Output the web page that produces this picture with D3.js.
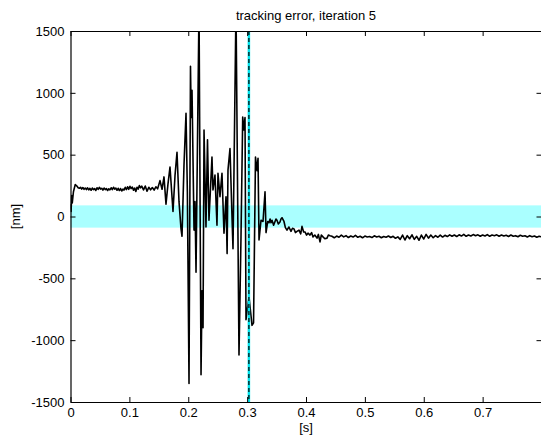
<html>
    <head>
        <meta charset="utf-8">
        <title>tracking-error</title>
        <script src="https://d3js.org/d3.v7.min.js"></script>
        <script>
            // measured tracking error, iteration 5
            const timeS = [
                0.000, 0.001, 0.002, 0.003, 0.005, 0.008, 0.011, 0.013,
                0.015, 0.017, 0.019, 0.021, 0.023, 0.025, 0.027, 0.029, 0.031, 0.033,
                0.035, 0.037, 0.039, 0.041, 0.043, 0.045, 0.047, 0.049, 0.051, 0.053,
                0.055, 0.057, 0.059, 0.061, 0.063, 0.065, 0.067, 0.069, 0.071, 0.073,
                0.075, 0.077, 0.079, 0.081, 0.083, 0.085, 0.087, 0.089, 0.091, 0.093,
                0.095, 0.097, 0.099, 0.101, 0.103, 0.105, 0.107, 0.109, 0.111, 0.113,
                0.115, 0.117, 0.119, 0.121,
                0.124, 0.127, 0.130, 0.133, 0.136, 0.139, 0.142, 0.145, 0.148, 0.152,
                0.1555, 0.1588, 0.1622, 0.1655, 0.169, 0.1741, 0.1775, 0.1809, 0.1843, 0.1877,
                0.1894, 0.1928, 0.1962, 0.1985, 0.2013, 0.2038, 0.2050, 0.2064, 0.2098, 0.2115,
                0.2132, 0.2183, 0.2217, 0.2234, 0.2251, 0.2268, 0.2301, 0.2327, 0.2352, 0.2403,
                0.2420, 0.2454, 0.2488, 0.2505, 0.2539, 0.2573, 0.2607, 0.2641, 0.2660, 0.2675,
                0.2709, 0.2743, 0.2760, 0.2777, 0.2811, 0.2862, 0.2896, 0.2925, 0.2945, 0.2964,
                0.2981, 0.3032, 0.3083, 0.3109, 0.3142, 0.3168, 0.3185, 0.3202, 0.3236, 0.3270,
                0.3304, 0.3321, 0.3350, 0.3372, 0.3390, 0.3406, 0.3423, 0.3450, 0.3474, 0.3490,
                0.3507, 0.3530, 0.3558, 0.3575, 0.3592, 0.3626, 0.3650, 0.3677, 0.3710, 0.3745,
                0.3770, 0.3796, 0.3820, 0.3847, 0.3881, 0.3910, 0.3932, 0.3960, 0.3983, 0.4010,
                0.4034, 0.4068, 0.4095, 0.4119, 0.4150, 0.4187, 0.4210, 0.4238, 0.4260, 0.4289,
                0.4320, 0.4357, 0.4380, 0.4408,
                0.444, 0.448, 0.452, 0.456, 0.460, 0.464, 0.468, 0.472, 0.476, 0.480,
                0.484, 0.488, 0.492, 0.496, 0.500, 0.504, 0.508, 0.512, 0.516, 0.520,
                0.524, 0.528, 0.532, 0.536, 0.540, 0.544, 0.548, 0.552, 0.556, 0.560,
                0.564, 0.568, 0.572, 0.576, 0.580, 0.584, 0.588, 0.592, 0.596, 0.600,
                0.604, 0.608, 0.612, 0.616, 0.620, 0.624, 0.628, 0.632, 0.636, 0.640,
                0.644, 0.648, 0.652, 0.656, 0.660, 0.664, 0.668, 0.672, 0.676, 0.680,
                0.684, 0.688, 0.692, 0.696, 0.700, 0.704, 0.708, 0.712, 0.716, 0.720,
                0.724, 0.728, 0.732, 0.736, 0.740, 0.744, 0.748, 0.752, 0.756, 0.760,
                0.764, 0.768, 0.772, 0.776, 0.780, 0.784, 0.788, 0.792, 0.796, 0.800
            ];
            const errorNm = [
                100, 40, 170, 110, 200, 258, 246, 232,
                228, 236, 222, 234, 220, 230, 218, 232, 215, 228,
                212, 230, 218, 226, 210, 232, 220, 236, 222, 228,
                214, 230, 218, 226, 210, 224, 216, 232, 218, 236,
                222, 230, 212, 228, 210, 226, 206, 222, 214, 236,
                218, 240, 220, 244, 226, 238, 212, 230, 202, 236,
                222, 250, 232, 246,
                215, 246, 205, 236, 216, 234, 214, 240, 224, 290,
                220, 320, 100, 260, 400, 40, 330, 520, 120, -100,
                -160, 420, 835, 200, -1350, 1215, 800, 1020, -110, 120,
                -450, 1700, -1280, -600, -900, 700, -85, 620, -30, 480,
                215, 335, -70, 350, 160, 350, -135, 160, -300, 375,
                550, 0, -260, 375, 1700, -1120, -165, 805, 700, 800,
                -835, -650, -880, -860, 480, 370, 470, -190, -30, -40,
                200, -130, -40, -50, -20, -50, -30, -70, -40, -20,
                -30, -60, -45, -20, -10, -40, -90, -110, -85, -120,
                -95, -100, -130, -120, -110, -140, -80, -125, -125, -150,
                -135, -150, -130, -165, -150, -175, -145, -205, -150, -165,
                -180, -175, -150, -155,
                -160, -172, -158, -168, -150, -165, -155, -170, -158, -166,
                -152, -168, -160, -172, -158, -166, -162, -170, -156, -165,
                -160, -172, -162, -168, -158, -170, -160, -176, -165, -185,
                -150, -190, -155, -180, -148, -185, -160, -192, -150, -182,
                -145, -175, -150, -172, -155, -168, -150, -166, -152, -162,
                -148, -160, -150, -162, -148, -158, -145, -160, -150, -158,
                -146, -156, -148, -160, -150, -158, -146, -160, -150, -155,
                -148, -160, -150, -158, -152, -162, -150, -160, -155, -164,
                -152, -160, -156, -166, -155, -163, -158, -168, -160, -165
            ];
            const toleranceNm = [-90, 90];
            const markerTime = 0.303;
            const xTicks = [0, 0.1, 0.2, 0.3, 0.4, 0.5, 0.6, 0.7];
            const yTicks = [-1500, -1000, -500, 0, 500, 1000, 1500];

            document.addEventListener('DOMContentLoaded', function(){
                const w = 541;
                const h = 438;
                const left = 70.5, right = 541.5, top = 31, bottom = 402;

                const svg = d3.select("body")
                    .append("svg")
                    .attr("width", w)
                    .attr("height", h)
                    .style("font-family", "'Liberation Sans', Arial, Helvetica, sans-serif");

                const xScale = d3.scaleLinear().domain([0, 0.8]).range([left, right]);
                const yScale = d3.scaleLinear().domain([-1500, 1500]).range([bottom, top]);

                svg.append("clipPath").attr("id", "plot-area")
                    .append("rect")
                    .attr("x", left).attr("y", top)
                    .attr("width", right - left).attr("height", bottom - top);

                // tolerance band
                svg.append("rect")
                    .attr("x", xScale(0))
                    .attr("y", yScale(toleranceNm[1]))
                    .attr("width", xScale(0.8) - xScale(0))
                    .attr("height", yScale(toleranceNm[0]) - yScale(toleranceNm[1]))
                    .attr("fill", "#aaffff");

                const line = d3.line()
                    .x((d, i) => xScale(timeS[i]))
                    .y(d => yScale(d));

                svg.append("path")
                    .datum(errorNm)
                    .attr("clip-path", "url(#plot-area)")
                    .attr("d", line)
                    .attr("fill", "none")
                    .attr("stroke", "black")
                    .attr("stroke-width", 1.6)
                    .attr("stroke-linejoin", "round");

                // marker line
                svg.append("line")
                    .attr("x1", xScale(markerTime)).attr("x2", xScale(markerTime))
                    .attr("y1", yScale(1500)).attr("y2", yScale(-1500))
                    .attr("stroke", "#00e5ee")
                    .attr("stroke-width", 2.5);
                svg.append("line")
                    .attr("x1", xScale(markerTime)).attr("x2", xScale(markerTime))
                    .attr("y1", yScale(1500)).attr("y2", yScale(-1500))
                    .attr("stroke", "black")
                    .attr("stroke-width", 1.2)
                    .attr("stroke-dasharray", "4,3");

                const xAxis = d3.axisBottom(xScale).tickValues(xTicks).tickFormat(d => String(d)).tickSizeInner(-5).tickSizeOuter(0).tickPadding(6);
                const yAxis = d3.axisLeft(yScale).tickValues(yTicks).tickFormat(d => String(d)).tickSizeInner(-5).tickSizeOuter(0).tickPadding(6);
                const xTop = d3.axisTop(xScale).tickValues(xTicks).tickFormat("").tickSizeInner(-5).tickSizeOuter(0);
                const yRight = d3.axisRight(yScale).tickValues(yTicks).tickFormat("").tickSizeInner(-5).tickSizeOuter(0);

                const axes = [
                    svg.append("g").attr("id", "x-axis").attr("transform", "translate(0," + bottom + ")").call(xAxis),
                    svg.append("g").attr("id", "y-axis").attr("transform", "translate(" + left + ",0)").call(yAxis),
                    svg.append("g").attr("transform", "translate(0," + top + ")").call(xTop),
                    svg.append("g").attr("transform", "translate(" + right + ",0)").call(yRight)
                ];
                axes.forEach(g => {
                    g.selectAll("text").attr("font-size", 13).attr("fill", "black").attr("font-family", null);
                    g.select(".domain").attr("stroke", "black").attr("stroke-width", 1.2);
                    g.selectAll(".tick line").attr("stroke", "black");
                });

                svg.append("text")
                    .attr("x", (left + right) / 2)
                    .attr("y", 20)
                    .attr("text-anchor", "middle")
                    .attr("font-size", 13)
                    .text("tracking error, iteration 5");
                svg.append("text")
                    .attr("x", (left + right) / 2)
                    .attr("y", 432)
                    .attr("text-anchor", "middle")
                    .attr("font-size", 13)
                    .text("[s]");
                svg.append("text")
                    .attr("transform", "translate(20," + yScale(0) + ") rotate(-90)")
                    .attr("text-anchor", "middle")
                    .attr("font-size", 13)
                    .text("[nm]");
            });
        </script>
        <style>
            body { margin: 0; background: white; }
        </style>
    </head>
    <body>
    </body>
</html>
